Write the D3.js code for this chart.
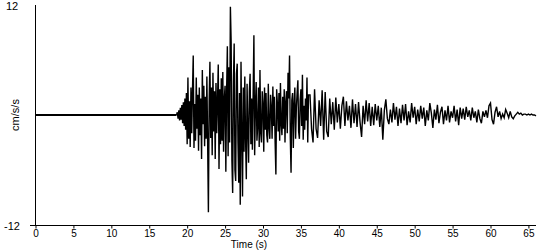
<!DOCTYPE html>
<html>
<head>
<meta charset="utf-8">
<script src="https://cdn.jsdelivr.net/npm/d3@7"></script>
<style>
    body { margin: 0; background: #fff; }
    text { font-family: "Liberation Sans", Arial, sans-serif; font-size: 11px; fill: #000; }
    .tick text, .xtitle { font-size: 10px; }
</style>
</head>
<body>
<div id="chart"></div>
<script>
// record is quiet until ~18.6 s; strong motion read every 0.1 s, the coda every 0.2 s
const quietStart = 0;
const onsetTime = 18.6;
const strongStep = 0.1;
const strongMotion = [
    0.0, 0.3, -0.4, 0.5, -0.6, 0.8, -0.5, 1.1, -0.9, 1.4,
    -1.2, 1.8, -1.6, 2.4, -3.2, 4.1, -2.6, 1.5, -3.5, 3.0,
    -2.0, 2.6, 6.5, -3.6, 1.2, -2.8, 4.1, -1.5, 2.2, -3.9,
    3.0, -2.2, 1.8, -4.8, 4.9, -1.0, 3.2, -3.4, 2.0, -2.6,
    4.2, -3.0, -10.6, 1.5, 5.8, -2.5, 3.0, -4.4, 4.6, -1.8,
    2.6, -4.8, 3.5, -2.0, 1.4, 5.5, -5.9, 2.8, -3.2, 4.0,
    -2.8, 4.7, -4.0, 1.8, 3.2, -6.2, 2.5, 7.5, -4.5, 5.2,
    -3.0, 11.8, 8.0, -5.0, -8.5, 3.6, 7.8, -6.0, -7.2, 4.5,
    5.6, -3.0, -7.4, 2.4, -9.8, 5.8, -2.2, -8.9, 3.0, -4.0,
    4.2, -2.5, -7.0, 3.4, -1.5, -5.2, 2.6, 4.5, -3.2, 1.8,
    -3.8, 2.2, 8.7, -4.4, 1.0, 3.6, -2.8, -1.2, 3.0, -3.5,
    4.9, -2.0, -3.0, 2.6, 1.2, -4.0, 3.0, -1.6, 2.4, -2.2,
    -3.0, 3.4, -1.4, -2.6, 2.2, 0.8, -2.6, 3.1, -1.2, 2.0,
    -3.0, -6.5, 2.8, 1.2, -1.8, 2.4, -2.8, 3.5, -1.0, -2.2,
    2.0, -1.5, 2.8, -3.0, 1.4, 2.6, -2.0, 4.6, 1.8, 6.5,
    -2.5, -6.3, 1.6, 2.4, -3.6, 1.2, 3.0, -2.6, 0.8, 2.4,
    3.8, -1.8, -2.6, 1.6, 2.8, -1.2, 4.4, -2.7, 1.0, -1.6,
    1.8, -0.6, 4.1, -3.0, 2.2
];
const codaStart = 36.2;
const codaStep = 0.2;
const coda = [
    2.2, -1.5,
    -3.0, 2.8, -1.5, -2.5, 1.6, -1.2, 2.7, -2.7, 2.5, -1.8,
    -2.4, 1.8, -1.0, 1.4, -1.6, 1.9, -0.8, 1.2, -1.5, 1.0,
    2.0, -1.2, 1.5, -0.6, 1.0, -1.4, 1.7, -0.9, 1.2, -1.3,
    1.4, -0.8, -2.4, 1.0, -1.0, 1.6, -0.7, 1.3, -1.2, 0.9,
    -1.1, 1.2, -0.6, 1.0, -1.3, 0.8, -2.7, 0.5, 1.7, -0.4,
    -1.0, 0.6, -0.8, 1.3, -0.5, 0.9, -1.2, 0.7, -0.9, 1.1,
    -0.6, 1.2, -1.1, 0.4, -0.8, 1.3, -0.3, 0.9, -1.0, 0.6,
    -0.7, 1.0, -0.4, 0.8, -1.2, 0.5, -0.6, 1.3, 0.2, -1.4,
    0.6, -0.5, 1.1, -0.9, 0.3, 0.9, -1.0, 0.5, -0.6, 1.0,
    -0.8, 0.4, -0.3, 1.0, -0.7, 0.6, -1.1, 0.8, -0.4, 0.7,
    -0.5, 0.9, -0.2, 0.5, -0.6, 0.8, -0.3, 0.4, -0.8, 0.6,
    -0.4, -0.9, 0.4, -0.2, 0.5, -0.3, 1.0, 1.3, -0.5, -1.0,
    0.3, 0.9, -0.2, 0.4, -0.4, 0.1, -0.3, 0.6, 0.2, -0.3,
    0.4, -0.2, -0.4, -0.1, 0.1, 0.3, 0.1, 0.2, 0.0, 0.1,
    0.1, 0.0, 0.1, 0.0, 0.1, 0.0, 0.0, -0.1
];
const timeTicks = [0, 5, 10, 15, 20, 25, 30, 35, 40, 45, 50, 55, 60, 65];
const ampLabels = [12, -12];

const width = 550, height = 250;

const svg = d3.select("#chart")
    .append("svg")
        .attr("width", width)
        .attr("height", height);

const x = d3.scaleLinear().domain([0, 66]).range([35.5, 536]);
const y = d3.scaleLinear().domain([-12, 12]).range([225, 5]);

// flat lead-in up to the onset, then the two sampled pieces
const quiet = [{ t: quietStart, v: 0 }, { t: onsetTime, v: 0 }];
const trace = quiet.slice(1).concat(
    strongMotion.map((v, i) => ({ t: onsetTime + i * strongStep, v: v })),
    coda.map((v, i) => ({ t: codaStart + i * codaStep, v: v }))
);

// x axis
const xAxis = svg.append("g")
    .attr("transform", "translate(0,225.5)")
    .call(d3.axisBottom(x).tickValues(timeTicks).tickSize(3).tickPadding(1).tickSizeOuter(0));
xAxis.select(".domain").remove();
xAxis.selectAll("line").attr("stroke", "#000");
xAxis.selectAll("text")
    .attr("font-family", null)
    .attr("font-size", null)
    .attr("fill", "#000");

svg.append("line")
    .attr("x1", 30).attr("x2", x(66))
    .attr("y1", 225.5).attr("y2", 225.5)
    .attr("stroke", "#000");

// y axis, only the end values are labelled
svg.append("line")
    .attr("x1", 35.5).attr("x2", 35.5)
    .attr("y1", y(12)).attr("y2", 225.5)
    .attr("stroke", "#000");

svg.selectAll(".ylab")
    .data(ampLabels)
    .enter()
    .append("text")
        .attr("class", "ylab")
        .attr("x", 12)
        .attr("y", d => y(d) + 1)
        .attr("dy", ".35em")
        .attr("text-anchor", "middle")
        .text(d => d);

svg.append("text")
    .attr("transform", "translate(15,115) rotate(-90)")
    .attr("text-anchor", "middle")
    .attr("dy", ".35em")
    .text("cm/s/s");

svg.append("text")
    .attr("class", "xtitle")
    .attr("x", 249)
    .attr("y", 248)
    .attr("text-anchor", "middle")
    .text("Time (s)");

const line = d3.line().x(d => x(d.t)).y(d => y(d.v));

// quiet part drawn with the heavier pen seen in the record
svg.append("path")
    .datum(quiet)
    .attr("fill", "none")
    .attr("stroke", "#000")
    .attr("stroke-width", 2)
    .attr("d", line);

svg.append("path")
    .datum(trace)
    .attr("fill", "none")
    .attr("stroke", "#000")
    .attr("stroke-width", 1.4)
    .attr("d", line);
</script>
</body>
</html>
